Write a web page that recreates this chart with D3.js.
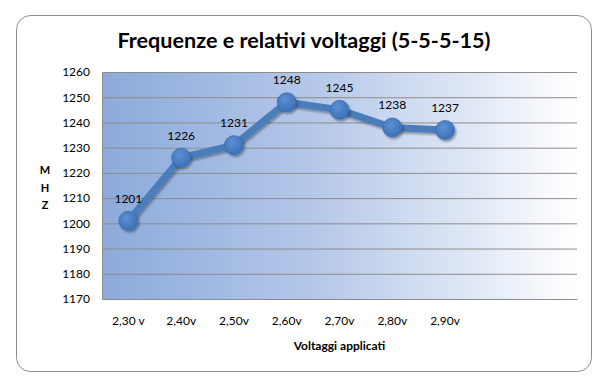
<!DOCTYPE html>
<html>
<head>
<meta charset="utf-8">
<script src="https://cdn.jsdelivr.net/npm/d3@7"></script>
<style>
  body { margin: 0; background: #fff; }
  text { font-family: Lato, "Open Sans", sans-serif; }
</style>
</head>
<body>
<div id="chart"></div>
<script>
//data
const voltages = ["2,30 v", "2,40v", "2,50v", "2,60v", "2,70v", "2,80v", "2,90v"];
const frequencies = [1201, 1226, 1231, 1248, 1245, 1238, 1237];
//the category axis has two empty slots at the right end
const emptySlots = ["_a", "_b"];
const yTicks = [1170, 1180, 1190, 1200, 1210, 1220, 1230, 1240, 1250, 1260];

const width = 606;
const height = 386;

//plot area
const plot = { left: 102, top: 72, right: 577, bottom: 299 };

const svg = d3.select("#chart").append("svg")
  .attr("width", width)
  .attr("height", height);

const defs = svg.append("defs");

//background gradient of the plot area
const bg = defs.append("linearGradient").attr("id", "bgGrad")
  .attr("x1", "0%").attr("x2", "100%").attr("y1", "0%").attr("y2", "0%");
bg.append("stop").attr("offset", "0%").attr("stop-color", "#8caadb");
bg.append("stop").attr("offset", "45%").attr("stop-color", "#b5c8e9");
bg.append("stop").attr("offset", "75%").attr("stop-color", "#dce5f4");
bg.append("stop").attr("offset", "100%").attr("stop-color", "#ffffff");

//marker fill
const mk = defs.append("radialGradient").attr("id", "markerGrad")
  .attr("cx", "40%").attr("cy", "35%").attr("r", "70%");
mk.append("stop").attr("offset", "0%").attr("stop-color", "#5d8fd3");
mk.append("stop").attr("offset", "100%").attr("stop-color", "#3a6fb5");

//shadow for line and markers
const shadow = defs.append("filter").attr("id", "shadow")
  .attr("x", "-30%").attr("y", "-30%").attr("width", "160%").attr("height", "160%");
shadow.append("feDropShadow")
  .attr("dx", 1.5).attr("dy", 2).attr("stdDeviation", 1.2)
  .attr("flood-color", "#000").attr("flood-opacity", 0.35);

//rounded outer border
svg.append("rect")
  .attr("x", 16.5).attr("y", 15.5)
  .attr("width", 575).attr("height", 356)
  .attr("rx", 14)
  .attr("fill", "#fff")
  .attr("stroke", "#8c8c8c")
  .attr("stroke-width", 1);

//title
svg.append("text")
  .attr("x", 304).attr("y", 48)
  .attr("text-anchor", "middle")
  .style("font-size", "21.6px")
  .style("font-weight", "bold")
  .attr("fill", "#000")
  .text("Frequenze e relativi voltaggi (5-5-5-15)");

//scales
const xscale = d3.scaleBand()
  .domain(voltages.concat(emptySlots))
  .range([plot.left, plot.right]);
const yscale = d3.scaleLinear()
  .domain([d3.min(yTicks), d3.max(yTicks)])
  .range([plot.bottom, plot.top]);

const xc = (d) => xscale(d) + xscale.bandwidth() / 2;

//plot background
svg.append("rect")
  .attr("x", plot.left).attr("y", plot.top)
  .attr("width", plot.right - plot.left)
  .attr("height", plot.bottom - plot.top)
  .attr("fill", "url(#bgGrad)");

//y axis with gridlines
const yaxis = d3.axisLeft(yscale)
  .tickValues(yTicks)
  .tickSize(-(plot.right - plot.left))
  .tickPadding(12)
  .tickFormat(d3.format("d"));

const g_yaxis = svg.append("g")
  .attr("transform", `translate(${plot.left},0)`)
  .call(yaxis);
g_yaxis.select(".domain").attr("stroke", "#8c8c8c");
g_yaxis.selectAll(".tick line").attr("stroke", "#8c8c8c");
g_yaxis.selectAll(".tick text")
  .style("font-size", "12px")
  .attr("fill", "#000");

//x axis, labels only
const xaxis = d3.axisBottom(xscale)
  .tickSize(0)
  .tickPadding(17)
  .tickFormat((d) => emptySlots.includes(d) ? "" : d);

const g_xaxis = svg.append("g")
  .attr("transform", `translate(0,${plot.bottom})`)
  .call(xaxis);
g_xaxis.select(".domain").attr("stroke", "#8c8c8c");
g_xaxis.selectAll(".tick text")
  .style("font-size", "12px")
  .attr("fill", "#000");

//axis titles
svg.append("text")
  .attr("x", (plot.left + plot.right) / 2)
  .attr("y", 350)
  .attr("text-anchor", "middle")
  .style("font-size", "12px")
  .style("font-weight", "bold")
  .text("Voltaggi applicati");

svg.selectAll(".unit")
  .data(["M", "H", "Z"])
  .join("text")
  .attr("class", "unit")
  .attr("x", 45)
  .attr("y", (d, i) => 174 + i * 17.5)
  .attr("text-anchor", "middle")
  .style("font-size", "11px")
  .style("font-weight", "bold")
  .text((d) => d);

//series
const points = voltages.map((v, i) => ({ v: v, f: frequencies[i] }));

const line = d3.line()
  .x((d) => xc(d.v))
  .y((d) => yscale(d.f));

svg.append("path")
  .datum(points)
  .attr("d", line)
  .attr("fill", "none")
  .attr("stroke", "#4a7ebb")
  .attr("stroke-width", 7)
  .attr("stroke-linejoin", "round")
  .attr("filter", "url(#shadow)");

svg.selectAll(".marker")
  .data(points)
  .join("circle")
  .attr("class", "marker")
  .attr("cx", (d) => xc(d.v))
  .attr("cy", (d) => yscale(d.f))
  .attr("r", 9.5)
  .attr("fill", "url(#markerGrad)")
  .attr("stroke", "#3b6eae")
  .attr("stroke-width", 0.8)
  .attr("filter", "url(#shadow)");

//value labels
svg.selectAll(".valueLabel")
  .data(points)
  .join("text")
  .attr("class", "valueLabel")
  .attr("x", (d) => xc(d.v))
  .attr("y", (d) => yscale(d.f) - 18)
  .attr("text-anchor", "middle")
  .style("font-size", "12px")
  .attr("fill", "#000")
  .text((d) => d.f);
</script>
</body>
</html>
